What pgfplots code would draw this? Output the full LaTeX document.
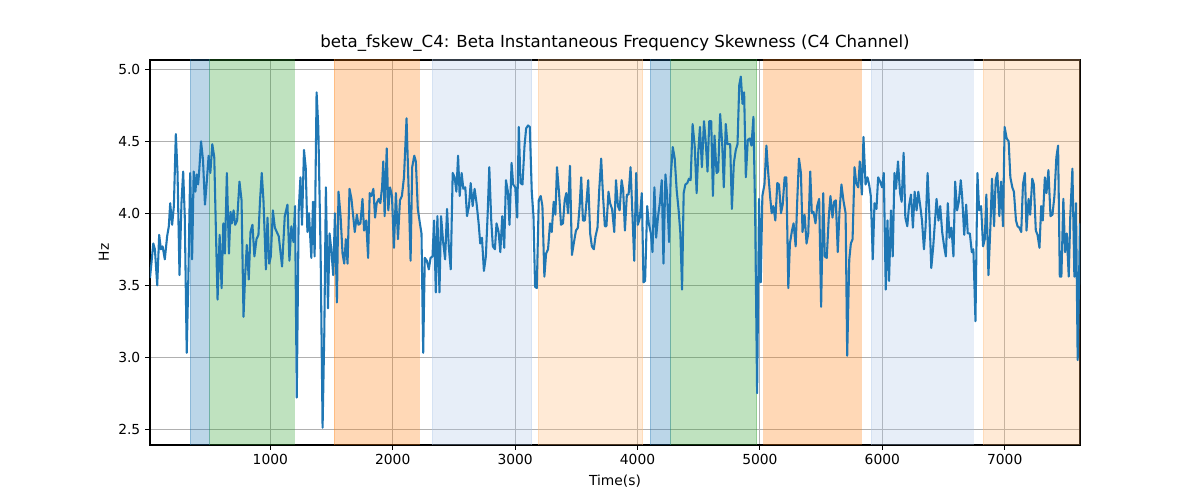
\documentclass[border=0pt]{standalone}
\usepackage{fontspec}
\setmainfont{DejaVu Sans}
\usepackage{pgfplots}
\pgfplotsset{compat=1.18}
\definecolor{c0}{HTML}{1F77B4}
\definecolor{cLB}{HTML}{AEC7E8}
\definecolor{cOr}{HTML}{FF7F0E}
\definecolor{cLO}{HTML}{FFBB78}
\definecolor{cGr}{HTML}{2CA02C}
\definecolor{gridgray}{HTML}{B0B0B0}
\begin{document}
\begin{tikzpicture}
\path[use as bounding box] (-1.5in,-0.55in) rectangle (10.5in,4.45in);
\begin{axis}[
  at={(0,0)}, anchor=south west,
  scale only axis,
  width=9.3in, height=3.85in,
  xmin=17, xmax=7615,
  ymin=2.39, ymax=5.065,
  xtick={1000,2000,3000,4000,5000,6000,7000},
  ytick={2.5,3.0,3.5,4.0,4.5,5.0},
  xticklabel style={/pgf/number format/.cd,set thousands separator={}},
  yticklabel style={/pgf/number format/.cd,fixed,fixed zerofill,precision=1},
  /pgf/number format/assume math mode=true,
  scaled x ticks=false,
  tick align=outside,
  xtick pos=left, ytick pos=left,
  major tick length=3.5pt,
  every tick/.style={black, line width=0.8pt},
  axis line style={line width=0.8pt},
  grid=major,
  major grid style={gridgray, line width=0.8pt},
  tick label style={font=\fontsize{10}{12}\selectfont},
  label style={font=\fontsize{10}{12}\selectfont},
  title style={font=\fontsize{12}{14}\selectfont, yshift=-3pt},
  title={beta\_fskew\_C4: Beta Instantaneous Frequency Skewness (C4 Channel)},
  xlabel={Time(s)},
  ylabel={Hz},
]
% shaded stages
\addplot[draw=c0, fill=c0, opacity=0.3] coordinates {(345,0) (345,10) (505,10) (505,0)} -- cycle;
\addplot[draw=cGr, fill=cGr, opacity=0.3] coordinates {(505,0) (505,10) (1194,10) (1194,0)} -- cycle;
\addplot[draw=cOr, fill=cOr, opacity=0.3] coordinates {(1520,0) (1520,10) (2215,10) (2215,0)} -- cycle;
\addplot[draw=cLB, fill=cLB, opacity=0.3] coordinates {(2321,0) (2321,10) (3136,10) (3136,0)} -- cycle;
\addplot[draw=cLO, fill=cLO, opacity=0.3] coordinates {(3187,0) (3187,10) (4042,10) (4042,0)} -- cycle;
\addplot[draw=c0, fill=c0, opacity=0.3] coordinates {(4105,0) (4105,10) (4271,10) (4271,0)} -- cycle;
\addplot[draw=cGr, fill=cGr, opacity=0.3] coordinates {(4271,0) (4271,10) (4974,10) (4974,0)} -- cycle;
\addplot[draw=cOr, fill=cOr, opacity=0.3] coordinates {(5031,0) (5031,10) (5824,10) (5824,0)} -- cycle;
\addplot[draw=cLB, fill=cLB, opacity=0.3] coordinates {(5908,0) (5908,10) (6739,10) (6739,0)} -- cycle;
\addplot[draw=cLO, fill=cLO, opacity=0.3] coordinates {(6823,0) (6823,10) (7615,10) (7615,0)} -- cycle;
% signal
\addplot[c0, line width=1.5pt, line join=round, mark=none] coordinates {
(17,3.55) (44,3.79) (57,3.75) (76,3.50) (92,3.85) (106,3.75) (120,3.77) (138,3.68) (157,3.84) (171,3.91)
(182,4.07) (198,3.92) (212,4.05) (228,4.55) (242,4.28) (258,3.57) (274,4.07) (288,4.29) (301,3.98) (317,3.03)
(331,3.58) (345,4.28) (361,3.68) (374,4.29) (388,4.15) (399,4.27) (410,4.20) (418,4.28) (434,4.50) (450,4.37)
(466,4.06) (480,4.21) (496,4.40) (510,4.28) (526,4.48) (542,4.39) (556,3.86) (569,3.40) (586,3.85) (602,3.48)
(616,3.93) (629,3.72) (645,4.28) (662,3.72) (675,4.01) (686,3.93) (700,4.02) (713,3.92) (729,3.95) (748,4.22)
(765,4.09) (781,3.28) (794,3.56) (808,3.78) (824,3.54) (838,3.87) (854,3.92) (870,3.70) (887,3.82) (903,3.85)
(916,4.09) (930,4.28) (944,4.09)
(964,3.61) (977,3.97) (991,3.65) (1004,3.70) (1021,4.02) (1037,3.90) (1053,3.87) (1069,3.84) (1096,3.63) (1118,3.98)
(1140,4.06) (1156,3.67) (1172,3.91) (1189,3.80) (1202,4.05) (1216,2.72) (1232,4.02) (1246,4.25) (1259,3.92) (1275,4.44)
(1289,4.32) (1303,3.87) (1316,4.00) (1335,3.69) (1349,4.08) (1362,3.70) (1378,4.84) (1392,4.60) (1411,3.72) (1427,2.51)
(1441,3.17) (1454,4.18) (1471,3.34) (1484,3.86) (1498,3.75) (1514,3.57) (1528,4.00) (1544,3.38) (1557,4.15) (1574,3.98)
(1590,3.72) (1604,3.65) (1617,3.82) (1631,3.65) (1647,4.17) (1663,4.10) (1677,3.98) (1690,3.87) (1707,3.99) (1720,3.92)
(1736,3.93) (1753,4.10) (1766,3.88) (1783,3.95) (1799,3.69) (1812,4.14) (1826,4.12) (1842,4.17) (1856,3.97) (1869,4.07)
(1886,4.10) (1899,4.07)
(1913,4.18) (1923,4.36) (1934,3.98) (1951,4.45) (1964,4.02) (1978,4.18) (1994,4.12) (2010,3.76) (2026,4.14) (2043,3.82)
(2059,4.09) (2075,4.12) (2092,4.25) (2113,4.66) (2130,4.16) (2146,3.67) (2159,4.32) (2176,4.40) (2189,4.36) (2205,4.03)
(2222,3.93) (2235,3.86) (2249,3.03) (2262,3.69) (2279,3.67) (2295,3.61) (2309,3.69) (2325,3.70) (2338,3.95) (2352,3.45)
(2365,3.98) (2382,3.45) (2395,3.98) (2412,3.80) (2428,3.68) (2444,4.03) (2458,3.77) (2474,3.61) (2490,4.28) (2506,4.25)
(2520,4.15) (2534,4.40) (2547,4.12) (2563,4.28) (2577,4.17) (2593,4.18) (2607,3.98) (2623,4.05) (2637,4.21) (2653,4.05)
(2669,4.17) (2685,4.07) (2702,3.93) (2715,3.79) (2729,3.83) (2745,3.60) (2761,3.70) (2775,3.98) (2789,4.32) (2805,3.95)
(2818,3.77) (2835,3.75) (2848,3.93)
(2865,3.87) (2879,3.73) (2895,3.98) (2911,3.76) (2925,4.23) (2941,4.15) (2954,3.92) (2971,4.35) (2984,4.20) (3001,4.18)
(3017,3.97) (3030,4.60) (3044,4.21) (3060,4.20) (3077,4.47) (3090,4.59) (3106,4.61) (3120,4.60) (3136,4.15) (3150,3.98)
(3163,3.49) (3177,3.48) (3193,4.09) (3209,4.12) (3223,4.05) (3239,3.56) (3253,3.72) (3269,3.75) (3285,3.93) (3299,3.87)
(3315,4.08) (3329,3.99) (3342,4.32) (3359,4.14) (3375,3.92) (3391,3.93) (3405,4.09) (3418,4.14) (3432,4.00) (3448,4.33)
(3464,3.71) (3481,3.80) (3497,3.88) (3513,3.90) (3527,4.05) (3540,4.25) (3554,3.95) (3570,3.95) (3584,4.09) (3597,4.23)
(3613,3.86) (3627,3.77) (3643,3.75) (3657,3.84) (3673,3.90) (3687,4.16) (3703,4.38) (3717,4.14) (3733,3.91) (3746,3.91)
(3763,4.15) (3776,4.07) (3792,4.03)
(3810,3.87) (3824,4.23) (3840,4.05) (3854,4.02) (3870,4.23) (3883,4.16) (3897,3.88) (3913,4.13) (3927,4.13) (3943,4.32)
(3959,3.98) (3973,3.67) (3989,4.28) (4003,3.92) (4019,3.97) (4035,4.14) (4049,3.52) (4062,3.53) (4079,4.05) (4092,3.93)
(4109,3.86) (4122,3.73) (4138,4.18) (4152,3.83) (4168,3.98) (4182,4.07) (4198,4.23) (4212,3.65) (4228,4.27) (4241,4.14)
(4258,3.80) (4271,4.25) (4288,4.46) (4304,4.38) (4320,4.16) (4336,4.02) (4350,3.86) (4364,3.47) (4377,4.14) (4391,4.20)
(4407,4.21) (4420,4.24) (4434,4.23) (4450,4.62) (4467,4.47) (4483,4.14) (4496,4.42) (4510,4.60) (4526,4.32) (4543,4.64)
(4556,4.51) (4572,4.29) (4586,4.64) (4602,4.64) (4616,4.12) (4629,4.54) (4646,4.28) (4659,4.29) (4675,4.69) (4692,4.48)
(4705,4.18) (4721,4.62) (4735,4.48)
(4757,4.48) (4771,4.03) (4787,4.35) (4803,4.44) (4817,4.48) (4831,4.89) (4844,4.95) (4858,4.76) (4871,4.84) (4885,4.25)
(4901,4.51) (4917,4.52) (4931,4.47) (4947,4.67) (4961,4.00) (4977,2.75) (4993,4.10) (5007,3.52) (5020,4.12) (5037,4.20)
(5053,4.47) (5066,4.30) (5083,4.12) (5096,4.00) (5110,4.05) (5126,3.95) (5142,4.21) (5156,4.20) (5172,4.00) (5186,4.06)
(5202,4.25) (5216,4.25) (5232,3.48) (5245,3.79) (5262,3.88) (5275,3.93) (5292,3.77) (5305,4.09) (5319,4.38) (5335,4.28)
(5348,3.87) (5365,3.99) (5381,3.79) (5395,3.86) (5411,4.29) (5424,4.00) (5438,4.01) (5454,3.93) (5468,4.05) (5484,4.10)
(5500,3.35) (5517,4.14) (5530,3.70) (5546,3.69) (5563,3.98) (5576,4.12) (5593,3.97) (5606,4.08) (5620,4.09) (5636,3.73)
(5650,4.01) (5666,4.20) (5682,4.09)
(5700,4.00) (5713,3.01) (5730,3.68) (5743,3.79) (5757,3.82) (5773,4.32) (5787,4.21) (5803,4.18) (5816,4.36) (5833,4.13)
(5846,4.53) (5863,4.20) (5879,4.25) (5892,4.20) (5906,4.12) (5922,3.68) (5936,4.07) (5952,4.03) (5966,4.25) (5982,4.22)
(5998,4.18) (6012,4.28) (6028,3.47) (6042,3.95) (6055,3.53) (6071,4.02) (6085,3.70) (6099,4.28) (6112,4.17) (6128,4.36)
(6145,4.14) (6158,4.08) (6174,4.42) (6188,3.97) (6204,3.91) (6218,4.05) (6234,4.13) (6250,3.90) (6264,4.15) (6280,4.02)
(6294,4.15) (6310,4.05) (6324,3.95) (6340,3.75) (6353,3.90) (6370,4.28) (6383,4.02) (6400,3.62) (6416,3.77) (6429,3.93)
(6443,4.10) (6459,3.95) (6473,4.05) (6489,3.87) (6505,3.77) (6519,3.70) (6535,4.07) (6549,3.83) (6565,3.90) (6581,3.70)
(6595,4.22) (6611,4.02) (6625,4.08) (6641,4.23)
(6652,4.12) (6669,3.85) (6685,4.06) (6698,3.86) (6715,3.86) (6731,3.73) (6744,3.75) (6761,3.25) (6777,4.28) (6791,4.02)
(6807,4.05) (6823,3.77) (6837,3.82) (6850,4.13) (6867,3.57) (6883,3.91) (6896,4.24) (6913,3.91) (6926,4.23) (6940,4.28)
(6956,3.98) (6970,4.22) (6986,3.91) (6999,4.60) (7016,4.52) (7032,4.50) (7046,4.25) (7062,4.18) (7075,4.15) (7092,3.95)
(7105,3.91) (7119,3.90) (7135,3.87) (7149,4.20) (7165,4.28) (7178,3.88) (7195,4.10) (7208,3.99) (7225,4.24) (7238,4.20)
(7254,3.88) (7268,3.85) (7284,3.76) (7298,4.05) (7311,3.95) (7328,4.25) (7341,4.14) (7357,4.30) (7374,3.98) (7390,3.99)
(7406,4.12) (7422,4.39) (7436,4.47) (7450,3.56) (7463,3.56) (7479,4.10) (7493,3.73) (7507,3.86) (7523,3.56) (7536,3.99)
(7553,4.31) (7569,3.56) (7582,4.07) (7596,2.98) (7615,3.93)
};
\end{axis}
\end{tikzpicture}
\end{document}
